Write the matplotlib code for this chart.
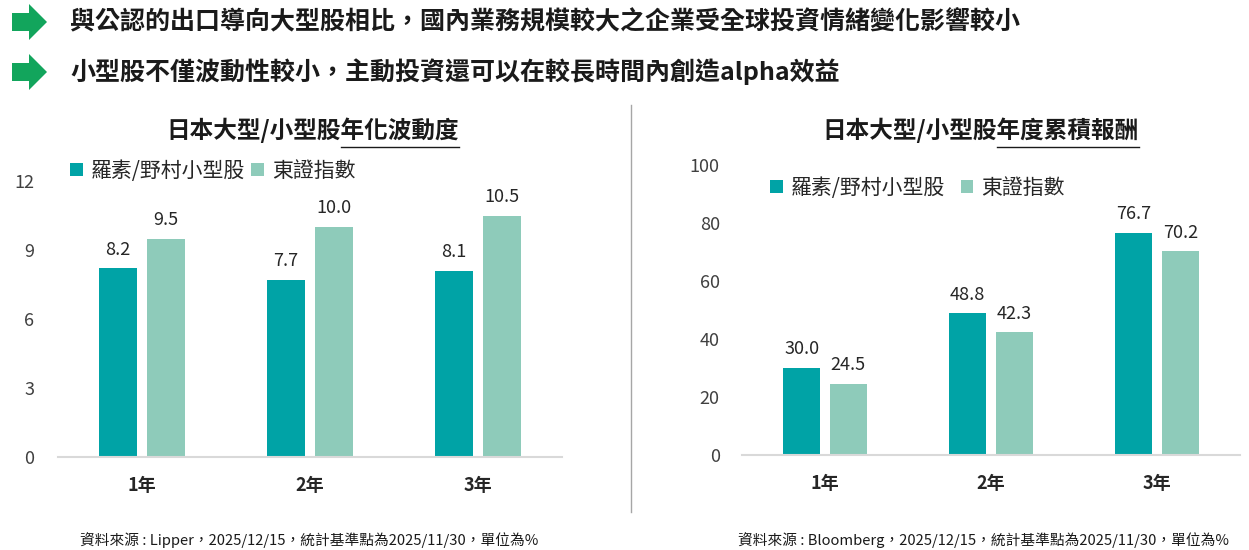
import matplotlib
matplotlib.use("Agg")
import matplotlib.pyplot as plt
from matplotlib.lines import Line2D
from matplotlib.patches import Polygon
import numpy as np

plt.rcParams["font.family"] = ["Noto Sans CJK TC", "DejaVu Sans"]

# data
headlines = [
    "與公認的出口導向大型股相比，國內業務規模較大之企業受全球投資情緒變化影響較小",
    "小型股不僅波動性較小，主動投資還可以在較長時間內創造alpha效益",
]
categories = ["1年", "2年", "3年"]
series_names = ["羅素/野村小型股", "東證指數"]

vol_small = [8.2, 7.7, 8.1]
vol_topix = [9.5, 10.0, 10.5]
vol_ticks = [0, 3, 6, 9, 12]

ret_small = [30.0, 48.8, 76.7]
ret_topix = [24.5, 42.3, 70.2]
ret_ticks = [0, 20, 40, 60, 80, 100]

left_title = ("日本大型/小型股", "年化波動度")
right_title = ("日本大型/小型股", "年度累積報酬")
left_note = "資料來源 : Lipper，2025/12/15，統計基準點為2025/11/30，單位為%"
right_note = "資料來源 : Bloomberg，2025/12/15，統計基準點為2025/11/30，單位為%"

TEAL = "#00A3A6"
MINT = "#8ECBBA"
GREEN = "#12A55C"
W, H = 1249, 550

fig = plt.figure(figsize=(W / 100, H / 100), dpi=100)


def fx(px):
    return px / W


def fy(py):
    return 1 - py / H


# header arrows + text
for yc, text in zip([22, 72], headlines):
    pts = [(12, yc - 9), (29, yc - 9), (29, yc - 18), (47, yc),
           (29, yc + 18), (29, yc + 9), (12, yc + 9)]
    fig.patches.append(Polygon([(fx(a), fy(b)) for a, b in pts], closed=True,
                               transform=fig.transFigure, color=GREEN, lw=0))
    fig.text(fx(70), fy(yc), text, fontsize=18, fontweight="bold",
             color="#1a1a1a", va="center", ha="left")

# divider
fig.add_artist(Line2D([fx(631), fx(631)], [fy(105), fy(512)],
                      transform=fig.transFigure, color="#A6A6A6", lw=1))


def draw_panel(rect, small, topix, ticks, ylim, bw, off, ypad, title, title_cx,
               legend_xy, colsp, note, note_x):
    ax = fig.add_axes(rect)
    x = np.arange(len(categories))
    b1 = ax.bar(x - off, small, bw, color=TEAL, label=series_names[0])
    b2 = ax.bar(x + off, topix, bw, color=MINT, label=series_names[1])
    for b in (b1, b2):
        ax.bar_label(b, labels=[f"{v:.1f}" for v in b.datavalues], padding=7,
                     fontsize=13, color="#262626")
    ax.set_xlim(-0.5, len(categories) - 0.5)
    ax.set_ylim(*ylim)
    ax.set_yticks(ticks)
    ax.set_xticks(x, categories)
    ax.tick_params(axis="y", length=0, pad=ypad, labelsize=13, labelcolor="#404040")
    ax.tick_params(axis="x", length=0, pad=14, labelsize=13, labelcolor="#262626")
    for lab in ax.get_xticklabels():
        lab.set_fontweight("bold")
    for s in ("top", "right", "left"):
        ax.spines[s].set_visible(False)
    ax.spines["bottom"].set_color("#D9D9D9")
    ax.spines["bottom"].set_linewidth(1.5)

    ax.legend(loc="center left", bbox_to_anchor=legend_xy,
              bbox_transform=fig.transFigure, ncol=2, frameon=False,
              handlelength=0.6, handleheight=0.6, handletextpad=0.4,
              columnspacing=colsp, fontsize=15, borderpad=0, borderaxespad=0,
              labelcolor="#262626")

    t = fig.text(fx(title_cx), fy(130), title[0] + title[1], fontsize=17,
                 fontweight="bold", color="#1a1a1a", ha="center", va="center")
    fig.canvas.draw()
    r = fig.canvas.get_renderer()
    bb = t.get_window_extent(r)
    tmp = fig.text(0, 0, title[1], fontsize=17, fontweight="bold")
    w2 = tmp.get_window_extent(r).width
    tmp.remove()
    fig.add_artist(Line2D([(bb.x1 - w2) / fig.bbox.width, bb.x1 / fig.bbox.width],
                          [fy(147), fy(147)], transform=fig.transFigure,
                          color="#1a1a1a", lw=1))

    fig.text(fx(note_x), fy(540), note, fontsize=10.6, color="#1a1a1a",
             ha="left", va="center")
    return ax


draw_panel([fx(58), fy(457), 504 / W, 276 / H], vol_small, vol_topix, vol_ticks,
           (0, 12), 0.226, 0.143, 17, left_title, 313, (fx(70), fy(171)), 0.3,
           left_note, 80)
draw_panel([fx(742), fy(455), 498 / W, 290 / H], ret_small, ret_topix, ret_ticks,
           (0, 100), 0.223, 0.14, 16, right_title, 981, (fx(770), fy(188)), 0.75,
           right_note, 738)

fig.savefig("out.png", dpi=100)
